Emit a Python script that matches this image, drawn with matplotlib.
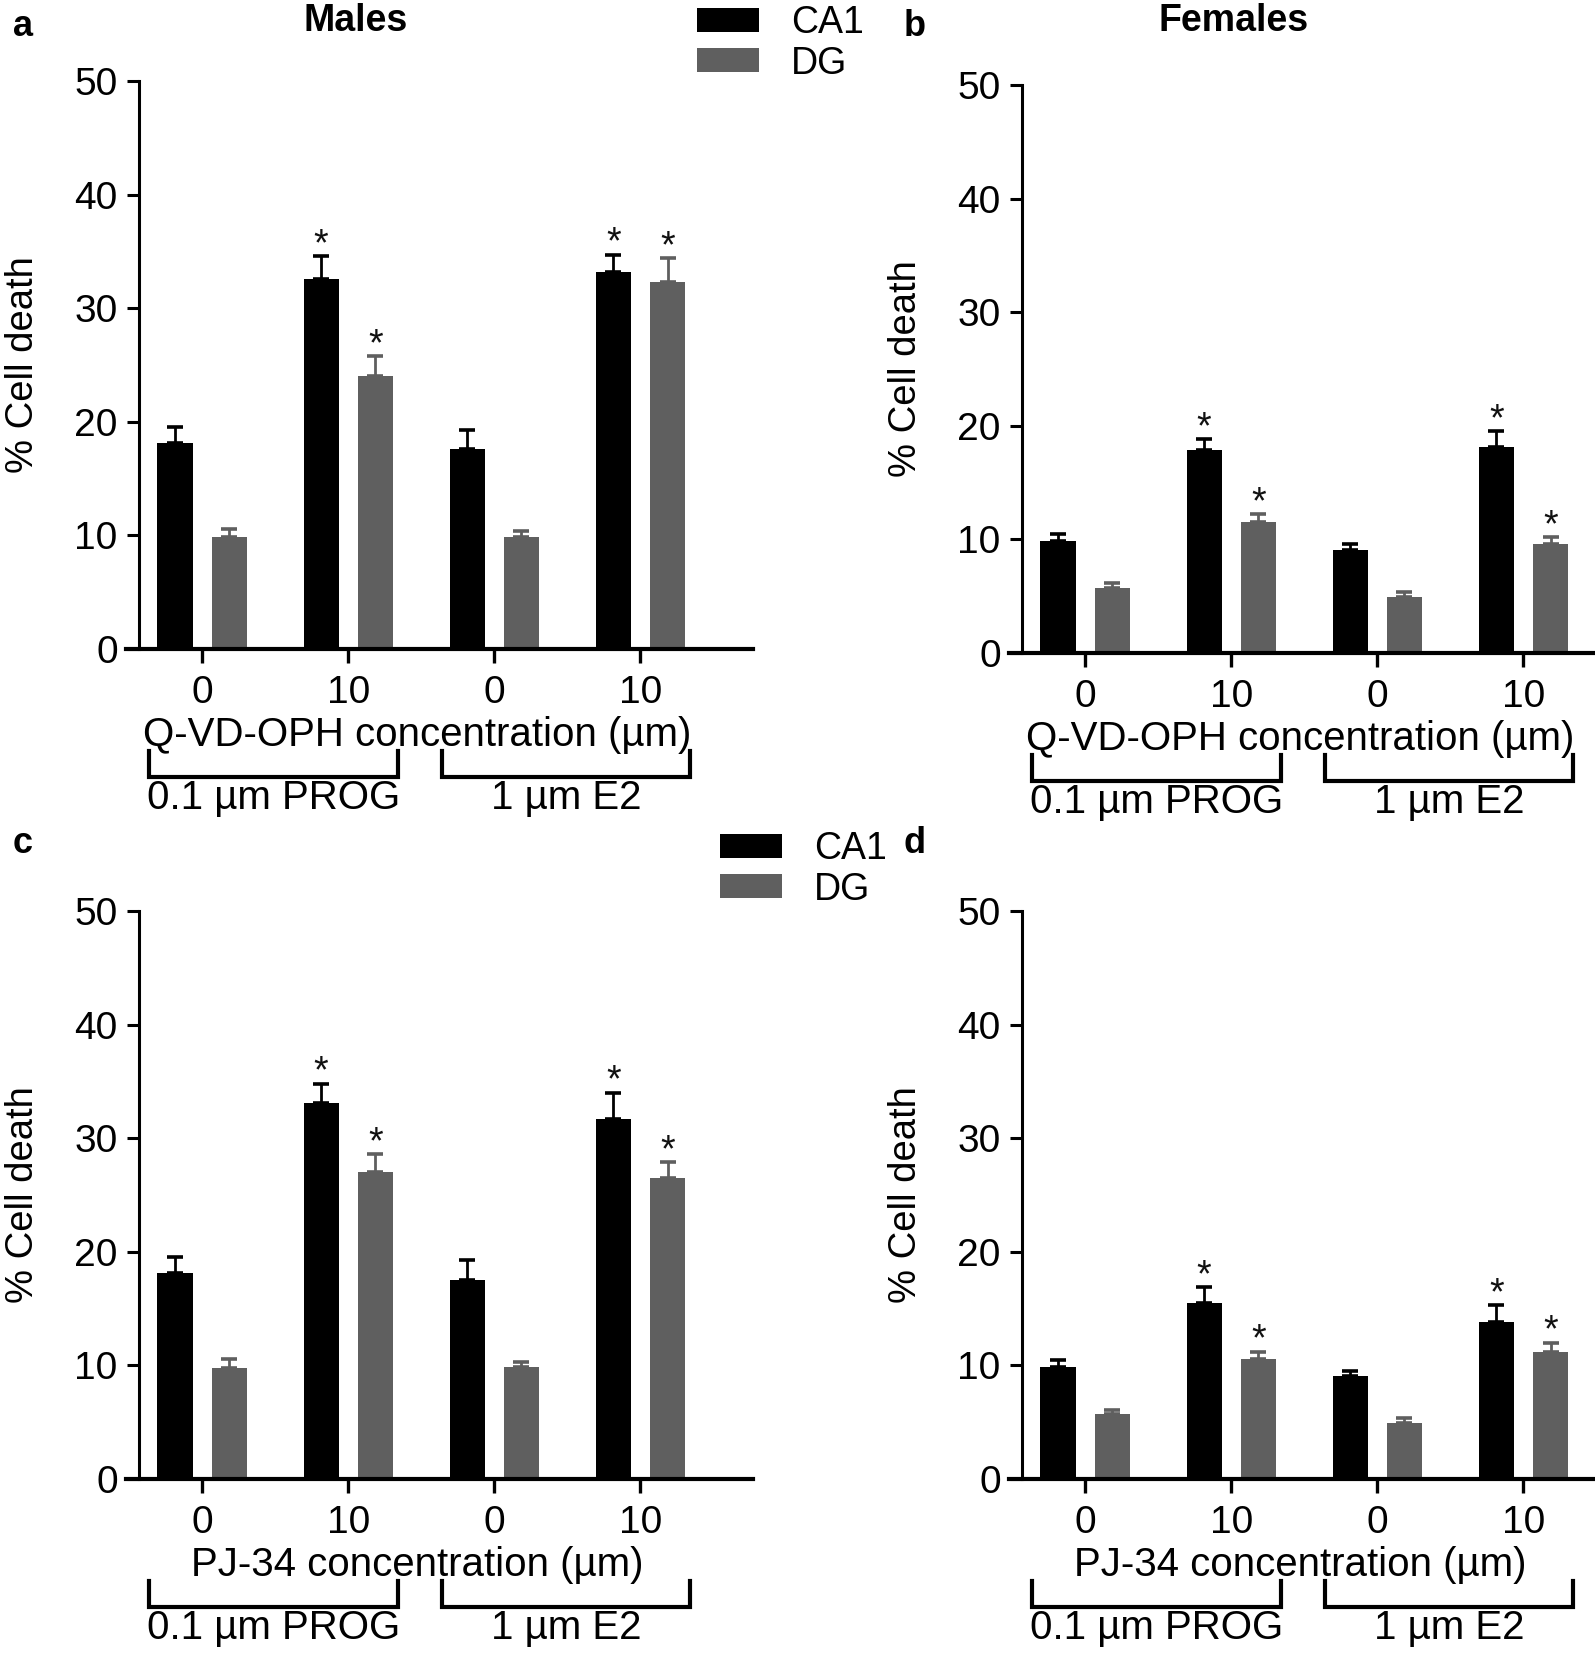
import matplotlib
matplotlib.use('Agg')
import matplotlib.pyplot as plt
import numpy as np
from matplotlib.patches import Patch

plt.rcParams['font.family'] = ['Liberation Sans', 'DejaVu Sans']

# ---------------- data ----------------
conditions = ['0', '10', '0', '10']
hormones = ['0.1 µm PROG', '1 µm E2']
series = ['CA1', 'DG']
panel_titles = ['Males', 'Females']
panel_letters = ['a', 'b', 'c', 'd']
drug_labels = ['Q-VD-OPH concentration (µm)', 'Q-VD-OPH concentration (µm)',
               'PJ-34 concentration (µm)', 'PJ-34 concentration (µm)']

a_ca1 = [18.1, 32.6, 17.6, 33.2]
a_ca1_err = [1.4, 2.0, 1.7, 1.5]
a_dg = [9.9, 24.0, 9.9, 32.3]
a_dg_err = [0.7, 1.8, 0.5, 2.1]
a_ca1_sig = [False, True, False, True]
a_dg_sig = [False, True, False, True]

b_ca1 = [9.9, 17.9, 9.1, 18.1]
b_ca1_err = [0.6, 0.9, 0.5, 1.4]
b_dg = [5.7, 11.5, 4.9, 9.6]
b_dg_err = [0.5, 0.7, 0.5, 0.6]
b_ca1_sig = [False, True, False, True]
b_dg_sig = [False, True, False, True]

c_ca1 = [18.1, 33.1, 17.5, 31.7]
c_ca1_err = [1.4, 1.7, 1.8, 2.3]
c_dg = [9.8, 27.0, 9.9, 26.5]
c_dg_err = [0.8, 1.6, 0.4, 1.4]
c_ca1_sig = [False, True, False, True]
c_dg_sig = [False, True, False, True]

d_ca1 = [9.9, 15.5, 9.1, 13.8]
d_ca1_err = [0.6, 1.4, 0.4, 1.5]
d_dg = [5.7, 10.6, 4.9, 11.2]
d_dg_err = [0.4, 0.6, 0.5, 0.8]
d_ca1_sig = [False, True, False, True]
d_dg_sig = [False, True, False, True]

panels = [
    (a_ca1, a_ca1_err, a_dg, a_dg_err, a_ca1_sig, a_dg_sig),
    (b_ca1, b_ca1_err, b_dg, b_dg_err, b_ca1_sig, b_dg_sig),
    (c_ca1, c_ca1_err, c_dg, c_dg_err, c_ca1_sig, c_dg_sig),
    (d_ca1, d_ca1_err, d_dg, d_dg_err, d_ca1_sig, d_dg_sig),
]

# ---------------- styling ----------------
W, H = 1595, 1668
fig = plt.figure(figsize=(W / 100, H / 100), dpi=100)

BLACK = '#000000'
GRAY = '#5f5f5f'
FS = 28

# axes rects in pixels: (left, top of y=50, width, bottom y=0)
ax_px = [
    (126, 81, 627, 649),
    (1009, 85, 627, 653),
    (126, 911, 627, 1479),
    (1009, 911, 627, 1479),
]

bar_w = 0.24
off = 0.185

for i, (px, data) in enumerate(zip(ax_px, panels)):
    l, t, w, b = px
    ax = fig.add_axes([l / W, 1 - b / H, w / W, (b - t) / H])
    ca1, ca1e, dg, dge, s1, s2 = data
    x = np.arange(len(conditions))
    ax.bar(x - off, ca1, bar_w, color=BLACK, zorder=2)
    ax.bar(x + off, dg, bar_w, color=GRAY, zorder=2)
    ax.errorbar(x - off, ca1, yerr=[np.zeros(len(ca1)), ca1e], fmt='none',
                ecolor=BLACK, elinewidth=2.0, capsize=6, capthick=2.6, zorder=3)
    ax.errorbar(x + off, dg, yerr=[np.zeros(len(dg)), dge], fmt='none',
                ecolor=GRAY, elinewidth=2.0, capsize=6, capthick=2.6, zorder=3)
    for xs, vals, errs, sig in [(x - off, ca1, ca1e, s1), (x + off, dg, dge, s2)]:
        for xi, v, e, s in zip(xs, vals, errs, sig):
            if s:
                ax.annotate('*', xy=(xi, v + e), xytext=(0, 8), textcoords='offset points',
                            ha='center', va='center', fontsize=27, color='#111111')

    ax.set_xlim(-0.52, 3.77)
    ax.set_ylim(0, 50)
    ax.set_yticks([0, 10, 20, 30, 40, 50])
    ax.set_xticks(x)
    ax.set_xticklabels(conditions)
    for sp in ['top', 'right']:
        ax.spines[sp].set_visible(False)
    ax.spines['left'].set_position(('axes', 0.02))
    ax.spines['left'].set_linewidth(2.2)
    ax.spines['bottom'].set_linewidth(3.0)
    ax.tick_params(axis='y', length=9, width=2.2, labelsize=FS, pad=6)
    ax.tick_params(axis='x', length=10, width=2.4, labelsize=FS, pad=9)

    ax.set_ylabel('% Cell death', fontsize=27.5)
    ax.yaxis.set_label_coords(-0.165, 0.5)
    ax.yaxis.label.set_va('center')
    ax.set_xlabel(drug_labels[i], fontsize=29)
    ax.xaxis.set_label_coords(0.465, -0.152)
    ax.xaxis.label.set_va('center')

    # hormone brackets
    tr = ax.get_xaxis_transform()
    for g, lab in enumerate(hormones):
        x0 = 2 * g - 0.36
        x1 = 2 * g + 1 + 0.34
        ax.plot([x0, x0, x1, x1], [-0.18, -0.225, -0.225, -0.18], color='black',
                lw=3.0, transform=tr, clip_on=False, solid_joinstyle='miter')
        ax.text((x0 + x1) / 2, -0.263, lab, transform=tr, ha='center', va='center',
                fontsize=29)

# titles & panel letters in figure coords
for ttl, cx in zip(panel_titles, [356, 1234]):
    fig.text(cx / W, 1 - 21 / H, ttl, ha='center', va='center', fontsize=27, fontweight='bold')
for let, (lx, ly) in zip(panel_letters, [(23, 26), (915, 26), (23, 844), (915, 844)]):
    fig.text(lx / W, 1 - ly / H, let, ha='center', va='center', fontsize=26, fontweight='bold')

handles = [Patch(facecolor=BLACK, edgecolor='none', label=series[0]),
           Patch(facecolor=GRAY, edgecolor='none', label=series[1])]
for (lx, ly) in [(697, 5), (720, 831)]:
    fig.legend(handles=handles, loc='upper left', bbox_to_anchor=(lx / W, 1 - ly / H),
               frameon=False, fontsize=27, handlelength=1.65, handleheight=0.62,
               handletextpad=0.85, labelspacing=0.12, borderpad=0, borderaxespad=0)

fig.savefig('out.png', dpi=100)
